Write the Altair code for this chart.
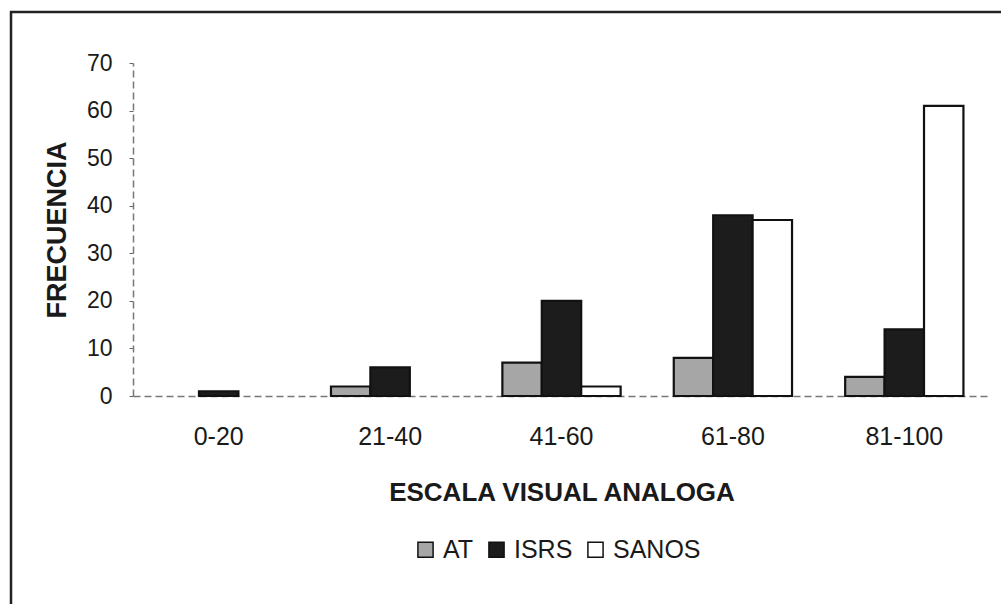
import altair as alt
import pandas as pd

# Frequency of each visual-analogue-scale range, per group
categories = ["0-20", "21-40", "41-60", "61-80", "81-100"]
groups = ["AT", "ISRS", "SANOS"]
at_values = [0, 2, 7, 8, 4]
isrs_values = [1, 6, 20, 38, 14]
sanos_values = [0, 0, 2, 37, 61]
y_ticks = [0, 10, 20, 30, 40, 50, 60, 70]

group_colors = ["#a6a6a6", "#1c1c1c", "#ffffff"]

rows = []
for name, vals in zip(groups, [at_values, isrs_values, sanos_values]):
    for cat, v in zip(categories, vals):
        rows.append({"escala": cat, "grupo": name, "frecuencia": v})
df = pd.DataFrame(rows)

FONT = "Liberation Sans"

bars = (
    alt.Chart(df)
    .transform_filter(alt.datum.frecuencia > 0)
    .mark_bar(stroke="#111111", strokeWidth=2.2)
    .encode(
        x=alt.X(
            "escala:N",
            sort=categories,
            scale=alt.Scale(paddingInner=0.31, paddingOuter=0.155),
            axis=alt.Axis(
                title="ESCALA VISUAL ANALOGA",
                labelAngle=0,
                labelFontSize=25,
                labelFont=FONT,
                labelColor="#1a1a1a",
                labelPadding=28,
                ticks=False,
                domainColor="#777777",
                domainDash=[7, 4],
                domainWidth=1.5,
                titleFont=FONT,
                titleFontSize=26,
                titleFontWeight="bold",
                titleColor="#1a1a1a",
                titlePadding=30,
            ),
        ),
        xOffset=alt.XOffset("grupo:N", sort=groups, scale=alt.Scale(paddingInner=0)),
        y=alt.Y(
            "frecuencia:Q",
            scale=alt.Scale(domain=[0, 70], nice=False),
            axis=alt.Axis(
                title="FRECUENCIA",
                values=y_ticks,
                grid=False,
                labelFontSize=23,
                labelFont=FONT,
                labelColor="#1a1a1a",
                labelPadding=17,
                tickSize=4,
                tickColor="#666666",
                domainColor="#777777",
                domainDash=[7, 4],
                domainWidth=1.5,
                titleFont=FONT,
                titleFontSize=27,
                titleFontWeight="bold",
                titleColor="#1a1a1a",
                titlePadding=15,
            ),
        ),
        fill=alt.Fill(
            "grupo:N",
            sort=groups,
            scale=alt.Scale(domain=groups, range=group_colors),
            legend=alt.Legend(
                title=None,
                orient="none",
                direction="horizontal",
                legendX=280,
                legendY=474,
                symbolType="square",
                symbolSize=230,
                symbolStrokeColor="#111111",
                symbolStrokeWidth=1.5,
                symbolOpacity=1,
                labelFont=FONT,
                labelFontSize=25,
                labelColor="#1a1a1a",
                labelOffset=5,
                columnPadding=10,
            ),
        ),
    )
)

# Outer frame around the whole figure
frame = (
    alt.Chart(pd.DataFrame({"k": [0]}))
    .mark_rect(fill=None, stroke="#222222", strokeWidth=2.5)
    .encode(
        x=alt.value(-122),
        x2=alt.value(880),
        y=alt.value(-51),
        y2=alt.value(560),
    )
)

chart = (
    alt.layer(frame, bars)
    .properties(
        width=857,
        height=333,
        autosize=alt.AutoSizeParams(type="none"),
        padding={"left": 133, "top": 63, "right": 11, "bottom": 208},
        background="white",
    )
    .configure_view(stroke=None)
)

chart.save("out.html", embed_options={"renderer": "svg", "actions": False})
